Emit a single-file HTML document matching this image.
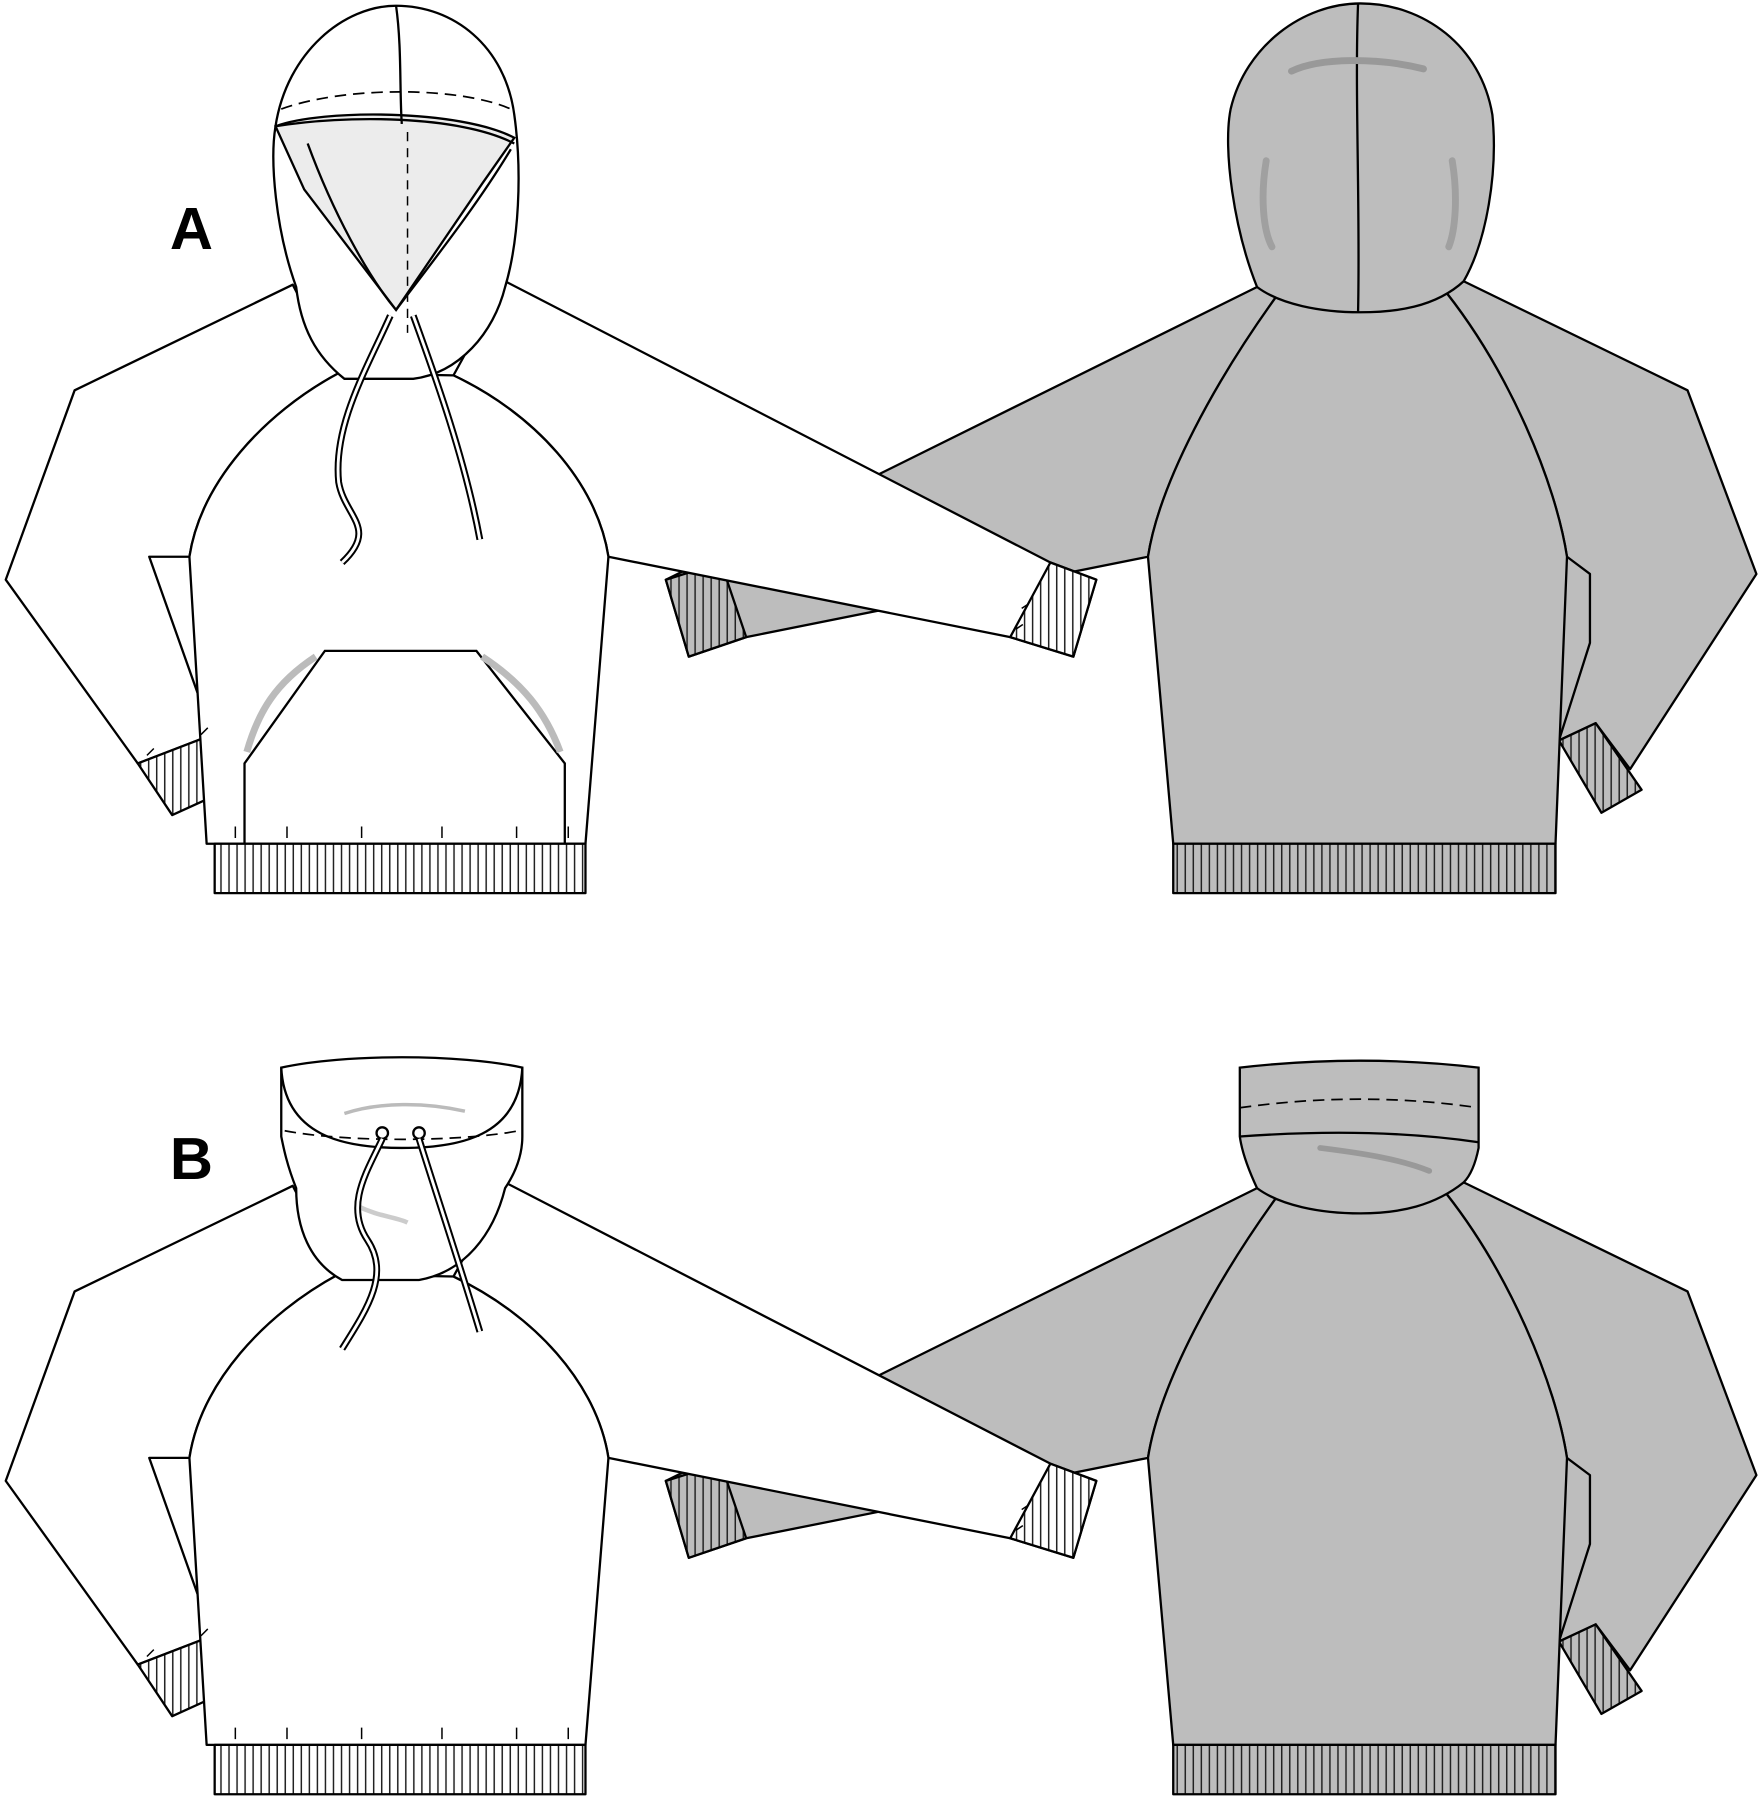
<!DOCTYPE html>
<html><head><style>
html,body{margin:0;padding:0;background:#fff;}
svg{display:block;}
</style></head><body>
<svg width="1761" height="1800" viewBox="0 0 1534 1568" preserveAspectRatio="none" xmlns="http://www.w3.org/2000/svg">
<defs>
<pattern id="rib" width="7" height="10" patternUnits="userSpaceOnUse">
<rect width="7" height="10" fill="#fff"/><line x1="3.5" y1="0" x2="3.5" y2="10" stroke="#222" stroke-width="1.3"/>
</pattern>
<pattern id="ribg" width="7" height="10" patternUnits="userSpaceOnUse">
<rect width="7" height="10" fill="#bdbdbd"/><line x1="3.5" y1="0" x2="3.5" y2="10" stroke="#222" stroke-width="1.3"/>
</pattern>
<g id="back" stroke="#000" stroke-width="2" stroke-linejoin="round">
<path d="M1365,485 L1385,500 L1385,560 L1358,645 L1355,735 Z" fill="#bdbdbd" stroke="none"/>
<path d="M1095,250 L580,505 L600,572 L650,555 L1000,485 C1010,420 1060,330 1112,258 Z" fill="#bdbdbd"/>
<path d="M580,505 L600,572 L650,555 L628,490 Z" fill="url(#ribg)"/>
<path d="M1275,245 L1470,340 L1530,500 L1420,670 L1390,630 L1358,645 L1385,560 L1385,500 L1365,485 C1355,420 1315,325 1260,255 Z" fill="#bdbdbd"/>
<path d="M1358,645 L1395,708 L1430,688 L1390,630 Z" fill="url(#ribg)"/>
<path d="M1000,485 L1022,735 L1355,735 L1365,485 C1355,420 1315,325 1260,255 L1112,258 C1060,330 1010,420 1000,485 Z" fill="#bdbdbd"/>
<rect x="1022" y="735" width="333" height="43" fill="url(#ribg)"/>
</g>
<g id="front" stroke="#000" stroke-width="2" stroke-linejoin="round">
<path d="M440,245 L915,490 L955,505 L935,572 L880,555 L530,485 C520,420 465,360 395,327 Z" fill="#fff"/>
<path d="M915,490 L955,505 L935,572 L880,555 Z" fill="url(#rib)"/>
<path d="M255,248 L65,340 L5,505 L120,665 L185,640 L130,485 L165,485 C175,420 230,360 295,325 Z" fill="#fff"/>
<path d="M120,665 L150,710 L205,685 L185,640 Z" fill="url(#rib)"/>
<path d="M165,485 L180,735 L510,735 L530,485 C520,420 465,360 395,327 L295,325 C230,360 175,420 165,485 Z" fill="#fff"/>
<rect x="187" y="735" width="323" height="43" fill="url(#rib)"/>
<g stroke-width="1.3" fill="none">
<path d="M205,730 v-10 M250,730 v-10 M315,730 v-10 M385,730 v-10 M450,730 v-10 M495,730 v-10"/>
<path d="M128,658 l6,-6 M175,640 l6,-6 M885,548 l6,-4 M890,530 l6,-4"/>
</g>
</g>
</defs>

<!-- ============ A ============ -->
<use href="#back"/>
<path d="M1095,250 C1075,200 1065,130 1072,95 C1085,40 1135,3 1185,3 C1240,3 1290,40 1300,100 C1305,150 1295,210 1275,245 C1250,268 1215,272 1185,272 C1150,272 1115,265 1095,250 Z" fill="#bdbdbd" stroke="#000" stroke-width="2"/>
<path d="M1183,3 C1180,80 1185,180 1183,272" fill="none" stroke="#000" stroke-width="2"/>
<path d="M1125,62 C1150,50 1200,50 1240,60" fill="none" stroke="#999" stroke-width="6" stroke-linecap="round"/>
<path d="M1103,140 C1098,170 1100,200 1108,215 M1265,140 C1270,170 1268,200 1262,215" fill="none" stroke="#a0a0a0" stroke-width="6" stroke-linecap="round"/>

<use href="#front"/>
<g stroke="#000" stroke-width="2">
<path d="M258,250 C240,200 235,140 240,110 C250,45 300,5 345,5 C395,5 440,40 448,100 C455,150 452,210 440,250 C430,290 400,325 360,330 L300,330 C275,310 262,285 258,250 Z" fill="#fff"/>
<path d="M240,110 C280,95 400,95 448,120 L420,160 L345,270 L265,165 Z" fill="#ececec"/>
<path d="M240,110 C300,100 400,100 448,125" fill="none"/>
<path d="M268,125 C290,185 320,240 345,270 C375,230 415,180 445,130" fill="none"/>
<path d="M345,5 C350,40 348,80 350,108" fill="none"/>
<path d="M245,95 C300,75 400,75 445,95" fill="none" stroke-dasharray="10,6" stroke-width="1.5"/>
<path d="M355,115 L355,290" fill="none" stroke-dasharray="8,6" stroke-width="1.3"/>
<path d="M340,275 C320,320 290,370 295,420 C300,450 330,460 298,490 M360,275 C380,330 405,400 418,470" fill="none" stroke="#000" stroke-width="6"/>
<path d="M340,275 C320,320 290,370 295,420 C300,450 330,460 298,490 M360,275 C380,330 405,400 418,470" fill="none" stroke="#fff" stroke-width="2.5"/>
<path d="M213,735 L213,665 L283,567 L415,567 L492,665 L492,735" fill="none"/>
<path d="M215,655 C225,620 240,595 275,572 M420,572 C455,595 475,620 488,655" fill="none" stroke="#bbb" stroke-width="6"/>
</g>
<text x="148" y="217" font-family="Liberation Sans, sans-serif" font-weight="bold" font-size="52" fill="#000">A</text>

<!-- ============ B ============ -->
<g transform="translate(0,785)"><use href="#back"/></g>
<g stroke="#000" stroke-width="2">
<path d="M1080,930 C1150,922 1220,922 1288,930 L1288,1000 C1285,1015 1280,1025 1275,1030 C1250,1050 1220,1057 1185,1057 C1150,1057 1115,1050 1095,1035 C1088,1020 1082,1005 1080,990 Z" fill="#bdbdbd"/>
<path d="M1080,965 C1150,955 1220,955 1288,965" fill="none" stroke-dasharray="10,6" stroke-width="1.5"/>
<path d="M1080,990 C1150,985 1220,985 1288,995" fill="none"/>
<path d="M1150,1000 C1190,1005 1220,1010 1245,1020" fill="none" stroke="#999" stroke-width="5" stroke-linecap="round"/>
</g>
<g transform="translate(0,785)"><use href="#front"/></g>
<g stroke="#000" stroke-width="2">
<path d="M245,930 C300,918 400,918 455,930 L455,990 C455,1005 450,1020 440,1035 C430,1075 405,1108 365,1115 L298,1115 C270,1100 258,1070 258,1035 C250,1015 247,1000 245,990 Z" fill="#fff"/>
<path d="M245,930 C248,990 300,1000 350,1000 C400,1000 452,990 455,930" fill="none"/>
<path d="M248,985 C300,995 400,995 452,985" fill="none" stroke-dasharray="10,6" stroke-width="1.5"/>
<path d="M300,970 C330,960 370,960 405,968" fill="none" stroke="#bbb" stroke-width="3"/>
<path d="M310,1050 C330,1060 345,1060 355,1065" fill="none" stroke="#ccc" stroke-width="4"/>
<circle cx="333" cy="987" r="5" fill="#fff"/><circle cx="365" cy="987" r="5" fill="#fff"/>
<path d="M333,992 C320,1020 300,1050 320,1080 C340,1110 320,1140 298,1175 M365,992 C380,1040 400,1100 418,1160" fill="none" stroke="#000" stroke-width="6"/>
<path d="M333,992 C320,1020 300,1050 320,1080 C340,1110 320,1140 298,1175 M365,992 C380,1040 400,1100 418,1160" fill="none" stroke="#fff" stroke-width="2.5"/>
</g>
<text x="148" y="1027" font-family="Liberation Sans, sans-serif" font-weight="bold" font-size="52" fill="#000">B</text>
</svg>
</body></html>
